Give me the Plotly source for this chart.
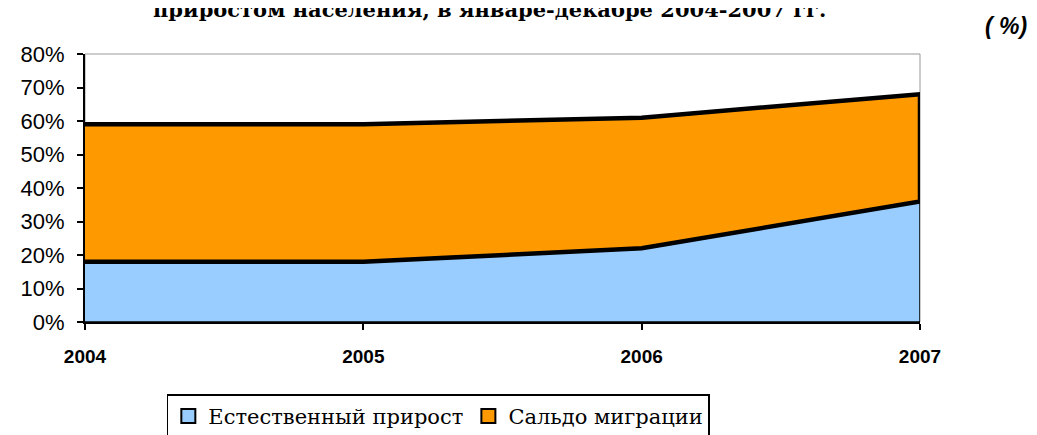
import plotly.graph_objects as go

years = [2004, 2005, 2006, 2007]
natural = [18, 18, 22, 36]          # Естественный прирост
migration = [41, 41, 39, 32]        # Сальдо миграции
y_ticks = [0, 10, 20, 30, 40, 50, 60, 70, 80]

BLUE = "#99CCFF"
ORANGE = "#FF9900"

total = [n + m for n, m in zip(natural, migration)]

fig = go.Figure()

# lower band: natural growth
fig.add_trace(go.Scatter(
    x=years + years[::-1],
    y=natural + [0] * len(years),
    fill="toself",
    fillcolor=BLUE,
    mode="lines",
    line=dict(color="black", width=1.5),
    showlegend=False,
    hoverinfo="skip",
))
# upper band: migration balance stacked on top
fig.add_trace(go.Scatter(
    x=years + years[::-1],
    y=total + natural[::-1],
    fill="toself",
    fillcolor=ORANGE,
    mode="lines",
    line=dict(color="black", width=4.5),
    showlegend=False,
    hoverinfo="skip",
))

# legend entries as square markers
for name, col in [("Естественный прирост", BLUE), ("Сальдо миграции", ORANGE)]:
    fig.add_trace(go.Scatter(
        x=[None], y=[None], mode="markers", name=name,
        marker=dict(symbol="square", size=14, color=col,
                    line=dict(color="black", width=2)),
    ))

fig.update_layout(
    width=1037,
    height=435,
    paper_bgcolor="white",
    plot_bgcolor="white",
    margin=dict(l=77, r=125, t=46, b=121, autoexpand=False),
    showlegend=True,
    legend=dict(
        orientation="h",
        x=0.098, xanchor="left",
        y=-0.27, yanchor="top",
        font=dict(family="DejaVu Serif", size=21, color="black"),
        bordercolor="black", borderwidth=1.5,
        itemwidth=30,
        tracegroupgap=0,
    ),
    shapes=[dict(type="rect", xref="paper", yref="paper", x0=0, x1=1, y0=0, y1=1,
                 line=dict(color="#999999", width=1), layer="below")],
    annotations=[
        dict(text="<b>приростом населения, в январе-декабре 2004-2007 гг.</b>",
             xref="paper", yref="paper", x=0.485, y=1.165, xanchor="center", yanchor="middle",
             showarrow=False, font=dict(family="DejaVu Serif", size=21, color="black")),
        dict(text="<b><i>( %)</i></b>",
             xref="paper", yref="paper", x=1.103, y=1.105, xanchor="center", yanchor="middle",
             showarrow=False, font=dict(family="Liberation Sans", size=23, color="black")),
    ],
)

fig.update_xaxes(
    range=[2004, 2007],
    tickvals=years,
    ticktext=[str(y) for y in years],
    tickfont=dict(family="Liberation Sans", size=19, color="black", weight="bold"),
    showgrid=False, zeroline=False, automargin=False,
    showline=True, linecolor="black", linewidth=2,
    ticks="outside", ticklen=6, tickcolor="black", tickwidth=2,
    ticklabelstandoff=10,
)
fig.update_yaxes(
    range=[0, 80],
    tickvals=y_ticks,
    ticktext=[f"{v}%" for v in y_ticks],
    tickfont=dict(family="Liberation Sans", size=22, color="black"),
    showgrid=False, zeroline=False, automargin=False,
    showline=True, linecolor="black", linewidth=2,
    ticks="outside", ticklen=6, tickcolor="black", tickwidth=2,
    ticklabelstandoff=8,
)

fig.write_html("out.html")
